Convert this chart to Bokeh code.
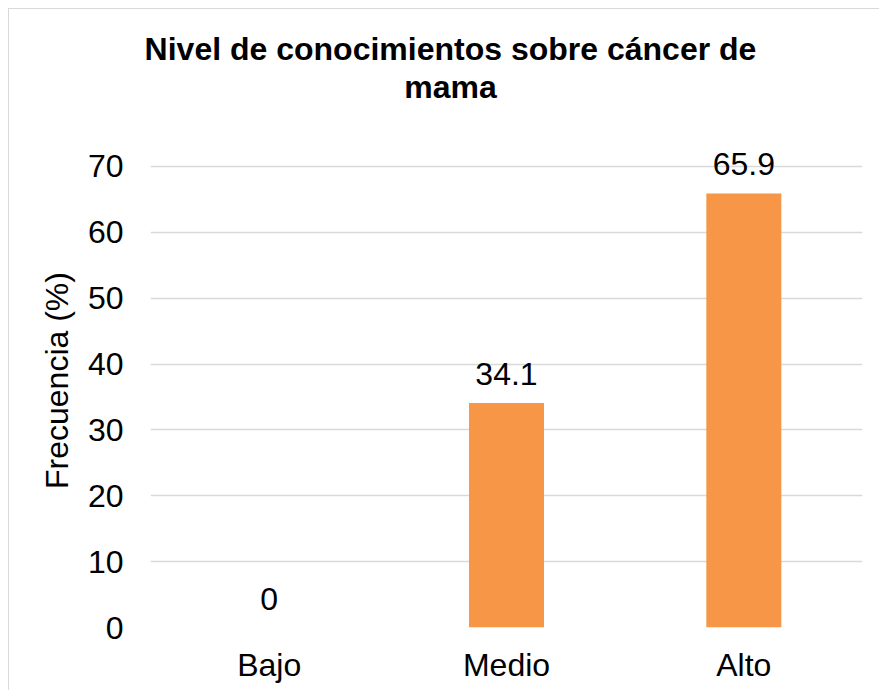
from bokeh.plotting import figure
from bokeh.models import Range1d, FactorRange, ColumnDataSource, FixedTicker
from bokeh.core.properties import value
from bokeh.embed import file_html
from bokeh.resources import INLINE

categories = ["Bajo", "Medio", "Alto"]
values = [0, 34.1, 65.9]
labels = ["0", "34.1", "65.9"]
y_ticks = [0, 10, 20, 30, 40, 50, 60, 70]
title_lines = ["Nivel de conocimientos sobre cáncer de", "mama"]

FONT = "Liberation Sans"
W = 871
TH = 120
MH = 562

# ---- title strip (pixel coordinates, y downwards) ----
tf = figure(width=W, height=TH, x_range=Range1d(0, W), y_range=Range1d(TH, 0),
            x_axis_type=None, y_axis_type=None, output_backend="svg", toolbar_location=None,
            min_border_left=0, min_border_right=0, min_border_top=0, min_border_bottom=0)
tf.styles = {"margin-left": "8px", "margin-top": "8px",
             "border-left": "1px solid #D9D9D9", "border-top": "1px solid #D9D9D9"}
tf.outline_line_color = None
tf.grid.visible = False
tf.text(x=[441, 441], y=[39, 77], text=title_lines, text_align="center",
        text_baseline="alphabetic", text_font=value(FONT), text_font_size="32px",
        text_font_style="bold", text_color="#000000")

# ---- main chart ----
p = figure(
    width=W, height=MH,
    x_range=FactorRange(*categories, range_padding=0),
    y_range=Range1d(0, 75),
    output_backend="svg", toolbar_location=None,
    min_border_left=141, min_border_right=18,
    min_border_top=5, min_border_bottom=63,
)
p.styles = {"margin-left": "8px", "border-left": "1px solid #D9D9D9"}
p.outline_line_color = None
p.background_fill_color = "white"
p.border_fill_color = "white"

src = ColumnDataSource(dict(cat=categories, val=values, lab=labels))
p.vbar(x="cat", top="val", width=0.316, source=src, fill_color="#F79646", line_color=None)
p.text(x="cat", y="val", text="lab", source=src, text_align="center", text_baseline="bottom",
       y_offset=-18, text_font=value(FONT), text_font_size="32px", text_color="#000000")

p.yaxis.ticker = FixedTicker(ticks=y_ticks)
p.ygrid.ticker = FixedTicker(ticks=y_ticks)
p.ygrid.grid_line_color = "#D9D9D9"
p.ygrid.grid_line_width = 1.3
p.xgrid.grid_line_color = None

for ax in (p.xaxis, p.yaxis):
    ax.axis_line_color = None
    ax.major_tick_line_color = None
    ax.minor_tick_line_color = None
    ax.major_tick_out = 0
    ax.major_tick_in = 0
    ax.major_label_text_font = FONT
    ax.major_label_text_font_size = "32px"
    ax.major_label_text_color = "#000000"

p.yaxis.major_label_standoff = 27
p.xaxis.major_label_standoff = 19
p.yaxis.axis_label = "Frecuencia (%)"
p.yaxis.axis_label_text_font = FONT
p.yaxis.axis_label_text_font_size = "32px"
p.yaxis.axis_label_text_font_style = "normal"
p.yaxis.axis_label_text_color = "#000000"
p.yaxis.axis_label_standoff = 10

open("out.html", "w").write(file_html([tf, p], INLINE))
